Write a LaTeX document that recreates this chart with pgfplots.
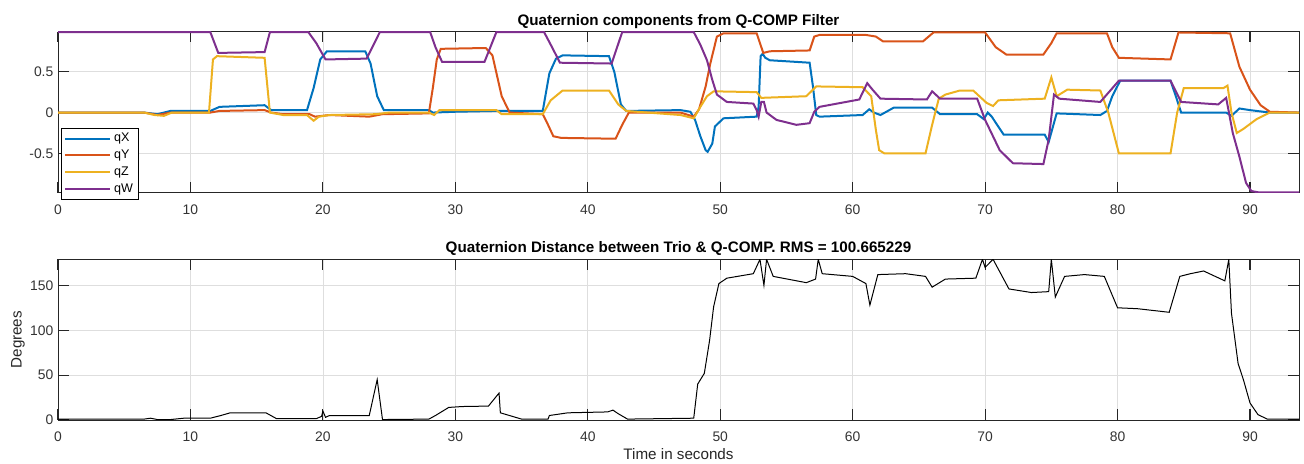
\documentclass[border=0pt]{standalone}
\usepackage{fontspec}
\setmainfont{Liberation Sans}
\usepackage{pgfplots}
\pgfplotsset{compat=1.18}
\definecolor{cX}{rgb}{0,0.447,0.741}
\definecolor{cY}{rgb}{0.85,0.325,0.098}
\definecolor{cZ}{rgb}{0.929,0.694,0.125}
\definecolor{cW}{rgb}{0.494,0.184,0.556}
\begin{document}
\begin{tikzpicture}
\useasboundingbox (0pt,0pt) rectangle (978pt,348pt);
\pgfplotsset{
  common/.style={
    scale only axis, width=930.75pt,
    xmin=0, xmax=93.7,
    xtick={0,10,...,90},
    grid=major, major grid style={black!13, line width=0.5pt},
    tick align=inside, major tick length=8pt,
    tick style={black!85, line width=0.9pt},
    axis line style={black!85, line width=0.6pt},
    ticklabel style={font=\fontsize{10.4}{12}\selectfont, text=black!80},
    xticklabel style={yshift=-5.5pt},
    /pgf/number format/assume math mode=true,
    every axis title/.style={at={(0.5,1)}, anchor=base, yshift=4.8pt, font=\bfseries\fontsize{11.4}{13}\selectfont},
    label style={font=\fontsize{11.4}{13}\selectfont, text=black!85},
  }
}
\begin{axis}[common, at={(43.5pt,203.5pt)}, anchor=south west, height=120.75pt,
  ymin=-0.98, ymax=0.99, ytick={-0.5,0,0.5},
  title={Quaternion components from Q-COMP Filter},
  legend style={at={(0.0024,-0.045)}, anchor=south west, draw=black, line width=0.6pt,
    font=\fontsize{9.4}{10}\selectfont, row sep=0.6pt, inner sep=2pt},
  legend cell align=left,
  legend image code/.code={\draw[#1, line width=1.5pt] (0pt,0pt) -- (34pt,0pt);},
  every axis plot/.append style={line width=1.5pt}]
\addplot[cX] coordinates {
(0,0) (6.5,0) (7.5,-0.02) (8.5,0.02) (11.5,0.02) (12.2,0.07) (15.6,0.09) (16.1,0.03)
(18.8,0.03) (19.3,0.3) (19.8,0.65) (20.3,0.75) (23.2,0.75) (23.6,0.6) (24.1,0.2) (24.6,0.03)
(28.0,0.03) (28.3,0.0) (30,0.01) (33,0.02) (36.6,0.02) (37.1,0.48) (37.6,0.66) (38.1,0.70)
(41.6,0.69) (42.0,0.5) (42.5,0.1) (42.9,0.02) (47.0,0.03) (47.75,0.01) (48.1,-0.09)
(48.5,-0.29) (48.9,-0.46) (49.05,-0.48) (49.4,-0.38) (49.6,-0.17) (50.25,-0.07) (52.75,-0.05)
(52.9,0.07) (53.05,0.69) (53.2,0.72) (53.4,0.67) (53.75,0.64) (56.75,0.61) (57.0,0.32)
(57.25,-0.03) (57.5,-0.05) (60.75,-0.03) (61.25,0.04) (61.6,0.0) (62.1,-0.03) (63.1,0.06)
(66.0,0.06) (66.6,-0.02) (69.4,-0.02) (69.9,-0.08) (70.2,0.0) (70.5,-0.05) (71.4,-0.27)
(74.5,-0.27) (74.8,-0.36) (75.4,-0.01) (78.7,-0.03) (79.2,0.02) (79.6,0.2) (80.2,0.39)
(84.0,0.39) (84.4,0.2) (84.8,0.0) (88.2,0.0) (88.6,-0.04) (89.2,0.05) (90.0,0.03) (91.5,0.0) (93.7,0.0)
};
\addlegendentry{qX}
\addplot[cY] coordinates {
(0,0) (6.5,0) (7.5,-0.03) (8.5,0.0) (11.5,0.0) (12.2,0.02) (15.6,0.03) (16.1,0.0) (17,-0.02)
(19,-0.02) (19.4,-0.05) (20.5,-0.03) (23.5,-0.05) (24.5,-0.02) (28.0,-0.01) (28.3,0.3)
(28.6,0.65) (28.9,0.78) (32.3,0.79) (32.8,0.7) (33.5,0.2) (34.1,0.0) (36.6,-0.02) (37.0,-0.15)
(37.4,-0.29) (38,-0.31) (42.1,-0.32) (42.6,-0.15) (43.1,0.0) (47.0,0.0) (48.0,-0.05)
(48.4,0.04) (48.9,0.32) (49.25,0.6) (49.75,0.93) (50.25,0.97) (52.75,0.97) (53.25,0.73)
(53.75,0.75) (56.75,0.76) (57.1,0.93) (57.5,0.95) (61.0,0.95) (61.75,0.93) (62.3,0.87)
(65.3,0.87) (66.1,0.98) (70.0,0.98) (70.8,0.8) (71.6,0.71) (74.4,0.71) (75.0,0.85) (75.4,0.97)
(79.2,0.97) (79.6,0.8) (80.1,0.67) (84.0,0.65) (84.6,0.98) (88.5,0.97) (89.2,0.56) (90.0,0.28)
(90.8,0.09) (91.5,0.01) (93.7,0.0)
};
\addlegendentry{qY}
\addplot[cZ] coordinates {
(0,0) (6.5,0) (7.3,-0.03) (8,-0.04) (8.6,0.0) (11.4,0.0) (11.7,0.65) (12.0,0.69) (15.6,0.67)
(16.0,0.0) (17.0,-0.03) (18.8,-0.03) (19.3,-0.1) (19.7,-0.05) (20.5,-0.03) (24,-0.02) (25,0.0)
(28.0,0.0) (28.4,-0.03) (28.8,0.03) (33.1,0.03) (33.5,-0.02) (36.6,-0.02) (37.2,0.15)
(38.1,0.27) (41.6,0.27) (42.3,0.1) (42.9,0.02) (47.0,-0.03) (48.0,-0.07) (48.5,0.07)
(49.0,0.2) (49.5,0.26) (52.75,0.25) (53.1,0.18) (56.5,0.2) (57.25,0.32) (60.75,0.31)
(61.4,0.2) (61.75,-0.21) (62.0,-0.46) (62.4,-0.5) (65.5,-0.5) (66.0,-0.15) (66.5,0.17)
(67,0.22) (68.1,0.27) (69.1,0.27) (70.1,0.12) (70.6,0.08) (71,0.15) (74.5,0.17) (75.0,0.43)
(75.4,0.2) (76.2,0.28) (78.7,0.27) (79.3,0.0) (80.1,-0.5) (84.0,-0.5) (84.5,0.0) (85.0,0.3)
(88.0,0.3) (88.3,0.33) (88.6,0.0) (89.0,-0.25) (89.5,-0.2) (90.5,-0.08) (91.5,0.0) (93.7,0.0)
};
\addlegendentry{qZ}
\addplot[cW] coordinates {
(0,0.985) (11.5,0.985) (12.1,0.73) (15.6,0.74) (16.0,0.985) (18.9,0.985) (19.5,0.85)
(20.2,0.65) (23.3,0.66) (24.3,0.985) (28.1,0.985) (28.5,0.8) (29.0,0.62) (32.2,0.62)
(33.1,0.985) (36.7,0.985) (37.3,0.8) (37.9,0.61) (41.8,0.6) (42.6,0.985) (48.0,0.985)
(48.5,0.83) (49.0,0.64) (49.4,0.4) (49.75,0.22) (50.5,0.13) (52.5,0.11) (52.75,0.03)
(52.9,-0.05) (53.1,0.13) (53.3,0.13) (53.5,0.0) (54.25,-0.09) (55.75,-0.15) (56.75,-0.13)
(57.1,0.01) (57.5,0.07) (60.5,0.16) (61.1,0.36) (61.5,0.28) (62.1,0.17) (65.6,0.16)
(66.0,0.26) (66.6,0.17) (69.4,0.17) (70.0,-0.09) (71.1,-0.46) (72.1,-0.62) (74.4,-0.63)
(74.8,-0.33) (75.2,0.22) (75.6,0.17) (78.7,0.13) (80.1,0.39) (84.0,0.39) (84.8,0.13)
(87.6,0.10) (88.2,0.18) (88.7,-0.25) (89.2,-0.54) (89.7,-0.86) (90.1,-0.96) (90.6,-0.975) (93.7,-0.975)
};
\addlegendentry{qW}
\end{axis}
\begin{axis}[common, at={(43.5pt,33pt)}, anchor=south west, height=120.5pt,
  ymin=0, ymax=179, ytick={0,50,100,150},
  title={Quaternion Distance between Trio \& Q-COMP. RMS = 100.665229},
  xlabel={Time in seconds}, ylabel={Degrees},
  xlabel style={at={(axis description cs:0.5,0)}, yshift=-25.5pt, anchor=center},
  ylabel style={at={(axis description cs:-0.03223,0.5)}, anchor=center}]
\addplot[black, line width=0.75pt] coordinates {
(0,1) (6.5,1) (7.0,2) (7.5,0.5) (8.5,0.5) (9.5,2) (11.5,2) (12.3,5) (13,8) (15.7,8) (16.5,1.5)
(19.5,1.5) (19.9,4) (20.0,10) (20.2,3) (20.5,5) (23.5,5) (24.1,45) (24.5,0.5) (28,1) (28.5,5)
(29.5,14) (30.5,15) (32.5,15.5) (33.3,30) (33.4,8) (35,1) (37,1) (37.1,5) (38.5,8) (41.5,9)
(41.9,11) (42.3,7) (43,1) (48,2) (48.3,40) (48.8,52) (49.2,89) (49.5,126) (49.9,152) (50.5,158)
(52.5,163) (53.0,179) (53.3,150) (53.5,179) (54.0,160) (56.5,153) (57.2,157) (57.4,179)
(57.7,163) (60,160) (61,152) (61.3,128) (61.9,162) (64,163) (65.5,160) (66,148) (67,157)
(69.3,158) (69.8,179) (70.0,170) (70.6,179) (71.8,146) (73.5,142) (74.8,143) (75.0,179)
(75.3,137) (76,160) (77.5,162) (79,160) (80.0,125) (81.5,124) (83.9,120) (84.7,160) (85.5,163)
(86.5,166) (88.1,155) (88.4,179) (88.6,119) (89.1,63) (89.5,45) (90.0,19) (90.6,6) (91.3,1) (93.7,1)
};
\end{axis}
\end{tikzpicture}
\end{document}
